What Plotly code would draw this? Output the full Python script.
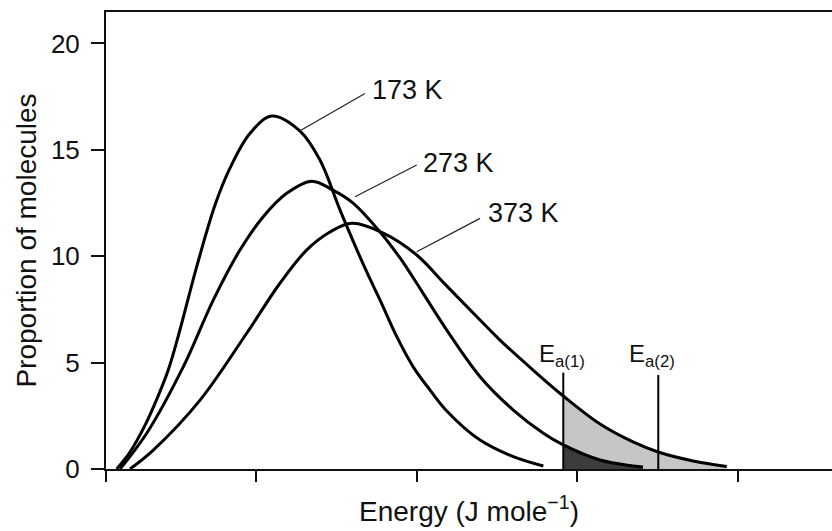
import numpy as np
import plotly.graph_objects as go

# Energy distributions at three temperatures (energy in arbitrary units, proportion in %)
x_173 = [0.133, 0.216, 0.309, 0.392, 0.454, 0.521, 0.631, 0.745, 0.838, 0.963, 1.098, 1.274,
         1.398, 1.523, 1.689, 1.772, 1.876, 1.979, 2.083, 2.187, 2.394, 2.601, 2.788]
y_173 = [0.0, 0.80, 2.05, 3.45, 4.65, 6.38, 9.51, 12.41, 14.14, 15.78, 16.59, 15.88,
         14.52, 12.17, 9.26, 7.94, 6.22, 4.79, 3.71, 2.73, 1.36, 0.58, 0.14]

x_273 = [0.154, 0.320, 0.548, 0.734, 0.900, 1.045, 1.191, 1.347, 1.479, 1.604, 1.772,
         1.896, 1.979, 2.187, 2.394, 2.601, 2.788, 2.912, 3.141, 3.346, 3.408]
y_273 = [0.0, 1.68, 4.81, 7.94, 10.29, 11.86, 12.96, 13.53, 13.11, 12.50, 11.14,
         9.92, 8.98, 6.53, 4.34, 2.77, 1.68, 1.13, 0.42, 0.14, 0.09]

x_373 = [0.216, 0.361, 0.652, 0.942, 1.149, 1.315, 1.460, 1.597, 1.792, 2.000, 2.176,
         2.394, 2.518, 2.724, 2.912, 3.141, 3.346, 3.502, 3.720, 3.929]
y_373 = [0.0, 0.89, 3.24, 6.38, 8.73, 10.29, 11.14, 11.55, 11.09, 10.06, 8.69,
         7.00, 6.06, 4.65, 3.43, 2.11, 1.27, 0.80, 0.38, 0.12]

temps = ["173 K", "273 K", "373 K"]

# Activation energies and the height of their marker lines
EA1, EA1_TOP = 2.912, 4.53
EA2, EA2_TOP = 3.503, 4.42

y_ticks = [0, 5, 10, 15, 20]
x_ticks = [1, 2, 3, 4]
X_MIN, X_MAX = 0.0666, 4.584
Y_MIN, Y_MAX = 0.0, 21.48

# Label anchors: (curve point, end of leader line, text position)
label_pts = {
    "173 K": ((1.274, 15.90), (1.678, 17.65), (1.712, 17.80)),
    "273 K": ((1.616, 12.80), (2.000, 14.29), (2.027, 14.37)),
    "373 K": ((2.000, 10.21), (2.394, 11.78), (2.432, 12.02)),
}

FONT = "Liberation Sans, Arial, Helvetica, sans-serif"
LIGHT = "#c6c6c6"
DARK = "#3c3c3c"
SPLINE = dict(shape="spline", smoothing=1.0)

fig = go.Figure()


def tail(xs, ys, start):
    xs, ys = np.asarray(xs), np.asarray(ys)
    m = xs >= start - 1e-9
    return xs[m], ys[m]


# Shaded tails beyond Ea(1)
tx, ty = tail(x_373, y_373, EA1)
fig.add_trace(go.Scatter(x=tx, y=ty, mode="lines", fill="tozeroy", fillcolor=LIGHT,
                         line=dict(width=0, **SPLINE), hoverinfo="skip", showlegend=False))
tx, ty = tail(x_273, y_273, EA1)
fig.add_trace(go.Scatter(x=tx, y=ty, mode="lines", fill="tozeroy", fillcolor=DARK,
                         line=dict(width=0, **SPLINE), hoverinfo="skip", showlegend=False))

for name, xs, ys in zip(temps, [x_173, x_273, x_373], [y_173, y_273, y_373]):
    fig.add_trace(go.Scatter(x=xs, y=ys, mode="lines", name=name,
                             line=dict(color="black", width=3, **SPLINE),
                             showlegend=False))

shapes = []
# Activation energy markers
for ea, top in [(EA1, EA1_TOP), (EA2, EA2_TOP)]:
    shapes.append(dict(type="line", xref="x", yref="y", x0=ea, x1=ea, y0=0, y1=top,
                       line=dict(color="black", width=2)))

annotations = []
for name in temps:
    (cx, cy), (ex, ey), (lx, ly) = label_pts[name]
    shapes.append(dict(type="line", xref="x", yref="y", x0=cx, y0=cy, x1=ex, y1=ey,
                       line=dict(color="#222", width=1.2)))
    annotations.append(dict(x=lx, y=ly, xref="x", yref="y", text=name, showarrow=False,
                            xanchor="left", yanchor="middle",
                            font=dict(family=FONT, size=27, color="#111")))

for ea_lbl, lx in [("E<sub>a(1)</sub>", 2.75), ("E<sub>a(2)</sub>", 3.31)]:
    annotations.append(dict(x=lx, y=5.35, xref="x", yref="y", text=ea_lbl, showarrow=False,
                            xanchor="left", yanchor="middle",
                            font=dict(family=FONT, size=24, color="#111")))

fig.update_layout(
    width=832, height=531,
    margin=dict(l=106, r=0, t=12, b=62),
    paper_bgcolor="white", plot_bgcolor="white",
    shapes=shapes, annotations=annotations,
    font=dict(family=FONT, color="#111"),
)
fig.update_xaxes(
    range=[X_MIN, X_MAX], tickvals=[X_MIN] + x_ticks, showticklabels=False,
    ticks="outside", ticklen=11, tickwidth=2, tickcolor="#111",
    showline=True, linecolor="#111", linewidth=2, mirror=True,
    showgrid=False, zeroline=False,
    title=dict(text="Energy (J mole<sup>\u22121</sup>)", font=dict(size=28, family=FONT),
               standoff=20),
)
fig.update_yaxes(
    range=[Y_MIN, Y_MAX], tickvals=y_ticks,
    ticks="outside", ticklen=13, tickwidth=2, tickcolor="#111",
    showline=True, linecolor="#111", linewidth=2,
    showgrid=False, zeroline=False,
    tickfont=dict(size=26, family=FONT, color="#111"),
    ticklabelstandoff=6,
    title=dict(text="Proportion of molecules", font=dict(size=28, family=FONT), standoff=6),
)

fig.write_html("out.html")
